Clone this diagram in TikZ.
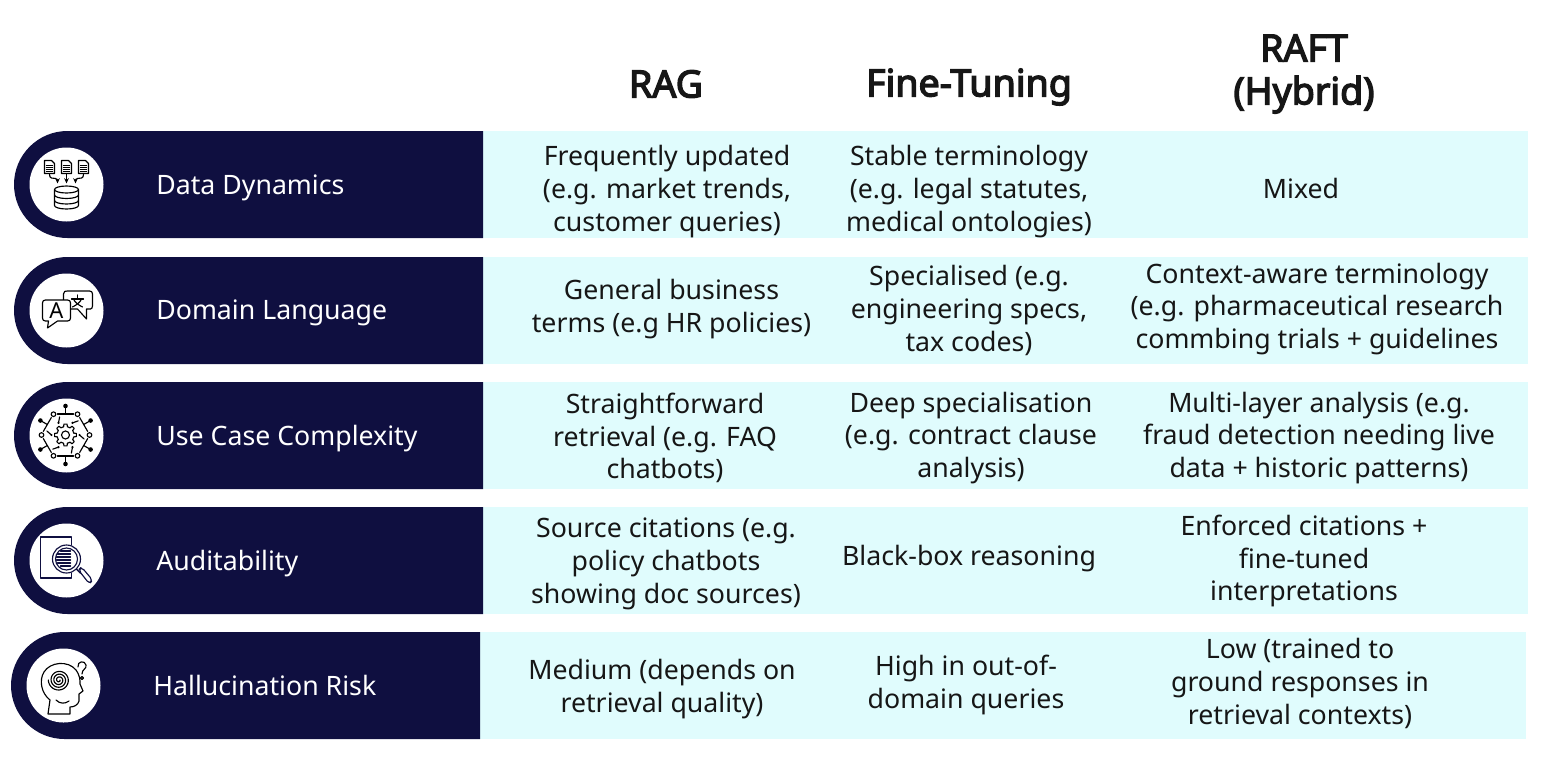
\documentclass[tikz,border=0pt]{standalone}
\usepackage{fontspec}
\setmainfont{Noto Sans}
\newfontfamily\headfont[FakeBold=3.6]{Noto Sans}
\usepackage{xcolor}
\usepackage{tikz}
\usetikzlibrary{calc, arrows.meta}
\definecolor{rownavy}{HTML}{0F0F40}
\definecolor{rowcyan}{HTML}{E0FCFD}
\definecolor{textgrey}{HTML}{161616}
\tikzset{
	headtext/.style={font=\fontsize{21.4}{24.4}\selectfont\headfont, text=textgrey, align=center},
	celltext/.style={font=\fontsize{15.2}{18.7}\selectfont, text=textgrey, align=center},
	rowlabel/.style={font=\fontsize{15.2}{18.7}\selectfont, text=white, anchor=west, inner sep=0pt},
	iconline/.style={line width=0.65pt, draw=black, line cap=round, line join=round},
	letterglyph/.style={font=\fontsize{12.5}{14}\selectfont, text=black},
	smalltip/.style={-{Stealth[length=3pt, width=2.6pt]}}
}
\begin{document}
\begin{tikzpicture}[x=0.02cm, y=-0.02cm]
			
			\useasboundingbox (0,0) rectangle (1555,768);
			
			\foreach \xleft/\xright/\ytop in {14/1528/131, 14/1528/257, 14/1528/382, 14/1528/507, 11/1526/632}
			{
				\fill[rowcyan] (\xleft+469,\ytop) rectangle (\xright,\ytop+107);
				\fill[rownavy] (\xleft+469,\ytop) -- (\xleft+53.5,\ytop) arc[start angle=270, end angle=90, radius=53.5] -- (\xleft+469,\ytop+107) -- cycle;
				\fill[white] (\xleft+52.5,\ytop+53.5) circle[radius=37];
			}
			
			\node[headtext] (headrag) at (666,84) {RAG};
			\node[headtext] (headfine) at (969,87) {Fine-Tuning};
			\node[headtext] (headraft) at (1304,74) {RAFT\\(Hybrid)};
			
			\node[rowlabel] (labeldata) at (156,188) {Data Dynamics};
			\node[rowlabel] (labeldomain) at (156,313) {Domain Language};
			\node[rowlabel] (labeluse) at (156,439) {Use Case Complexity};
			\node[rowlabel] (labelaudit) at (156,564) {Auditability};
			\node[rowlabel] (labelhalluc) at (153,685) {Hallucination Risk};
			
			\node[celltext] (ragdata) at (667,191.5) {Frequently updated\\(e.g. market trends,\\customer queries)};
			\node[celltext] (finedata) at (969,191.5) {Stable terminology\\(e.g. legal statutes,\\medical ontologies)};
			\node[celltext] (raftdata) at (1301,188) {Mixed};
			
			\node[celltext] (ragdomain) at (671.5,309) {General business\\terms (e.g HR policies)};
			\node[celltext] (finedomain) at (969,310.5) {Specialised (e.g.\\engineering specs,\\tax codes)};
			\node[celltext] (raftdomain) at (1317,309) {Context-aware terminology\\(e.g. pharmaceutical research\\commbing trials + guidelines};
			
			\node[celltext] (raguse) at (665,438) {Straightforward\\retrieval (e.g. FAQ\\chatbots)};
			\node[celltext] (fineuse) at (971,438) {Deep specialisation\\(e.g. contract clause\\analysis)};
			\node[celltext] (raftuse) at (1319,438) {Multi-layer analysis (e.g.\\fraud detection needing live\\data + historic patterns)};
			
			\node[celltext] (ragaudit) at (666,564) {Source citations (e.g.\\policy chatbots\\showing doc sources)};
			\node[celltext] (fineaudit) at (969,559) {Black-box reasoning};
			\node[celltext] (raftaudit) at (1304,561) {Enforced citations +\\fine-tuned\\interpretations};
			
			\node[celltext] (raghalluc) at (662,689) {Medium (depends on\\retrieval quality)};
			\node[celltext] (finehalluc) at (966,685) {High in out-of-\\domain queries};
			\node[celltext] (rafthalluc) at (1300,683.5) {Low (trained to\\ground responses in\\retrieval contexts)};
			
			\begin{scope}[shift={(66.5,184.5)}, iconline]
				\foreach \x in {-17, 0, 17}
				{
					\draw (\x-5,-24) -- (\x+2,-24) -- (\x+5,-21) -- (\x+5,-11) -- (\x-5,-11) -- cycle;
					\foreach \y in {-19, -17, -15, -13}
					\draw (\x-3,\y) -- (\x+3,\y);
				}
				\draw[smalltip] (0,-10) -- (0,-1);
				\draw[smalltip] (-17,-10) .. controls (-17,-6) and (-14,-6) .. (-11,-6) .. controls (-9,-6) and (-9,-4) .. (-9,-1);
				\draw[smalltip] (17,-10) .. controls (17,-6) and (14,-6) .. (11,-6) .. controls (9,-6) and (9,-4) .. (9,-1);
				\draw (-12,5) -- (-12,21) arc[start angle=180, end angle=0, x radius=12, y radius=3.5] -- (12,5);
				\draw (0,5) ellipse[x radius=12, y radius=3.5];
				\draw (-12,10.5) arc[start angle=180, end angle=0, x radius=12, y radius=3.5];
				\draw (-12,16) arc[start angle=180, end angle=0, x radius=12, y radius=3.5];
			\end{scope}
			
			\begin{scope}[shift={(66.5,310)}, iconline]
				\draw[fill=white] (-3,-16) .. controls (-3,-19) and (-1,-19) .. (1,-19) -- (23,-19) .. controls (25,-19) and (26,-18) .. (26,-16) -- (26,-4) .. controls (26,-2) and (25,-1) .. (24,-1) -- (20,-1) -- (20,9) -- (11,-1) -- (-3,-1) -- cycle;
				\draw[fill=white] (-24,-7) .. controls (-24,-9) and (-23,-10) .. (-21,-10) -- (1,-10) .. controls (3,-10) and (4,-9) .. (4,-7) -- (4,8) .. controls (4,10) and (3,11) .. (1,11) -- (-9,11) -- (-19,18) -- (-18,11) -- (-21,11) .. controls (-23,11) and (-24,10) .. (-24,8) -- cycle;
				\node[letterglyph] (glypha) at (-10,1) {A};
				\draw (5,-11) -- (17,-11);
				\draw (11,-15) -- (11,-11);
				\draw (7,-11) .. controls (8,-8) and (12,-5) .. (16,-3);
				\draw (15,-11) .. controls (14,-8) and (10,-5) .. (6,-3);
			\end{scope}
			
			\begin{scope}[shift={(65.5,435)}, iconline]
				\foreach \a in {0, 45, ..., 315}
				\draw ({\a-13}:8.5) -- ({\a-8}:11) -- ({\a+8}:11) -- ({\a+13}:8.5) -- ({\a+32}:8.5);
				\draw (0,0) circle[radius=4];
				\foreach \a in {30, 90, ..., 330}
				{
					\fill (\a:29) circle[radius=2.3];
					\draw (\a:29) -- (\a:21);
					\draw ($(\a:21)+(\a+90:8)$) -- ($(\a:21)+(\a-90:8)$);
					\draw[fill=white] (\a+30:24) circle[radius=2.3];
					\fill (\a+30:14) circle[radius=1.2];
					\draw (\a+30:14) -- (\a+42:19);
				}
			\end{scope}
			
			\begin{scope}[shift={(66.5,560)}, line width=0.65pt, line cap=round, line join=round]
				\draw[rownavy] (5,-15) -- (5,-23) -- (-26,-23) -- (-26,18) -- (5,18) -- (5,13);
				\draw[rownavy, fill=white] (0,-1) circle[radius=14];
				\draw[rownavy] (0,-1) circle[radius=11];
				\foreach \y/\w in {-9/6, -6/9, -3/10, 0/10, 3/9, 6/6}
				\draw[rownavy, line width=0.8pt] (-\w,\y) -- (4,\y);
				\draw[rownavy, line width=0.8pt] (10,9) -- (14,13);
				\draw[rownavy, fill=white, rounded corners=2pt] (12,10) -- (15,7) -- (26,20) -- (23,24) -- cycle;
			\end{scope}
			
			\begin{scope}[shift={(64,685)}, iconline]
				\draw (-16,29) -- (-14,15) .. controls (-23,8) and (-25,-5) .. (-20,-13) .. controls (-14,-23) and (4,-25) .. (12,-15) .. controls (16,-9) and (16,-6) .. (16,-1) -- (19,6) -- (15,9) -- (15,16) .. controls (14,20) and (10,22) .. (6,22) -- (6,29) -- cycle;
				\draw (-8,15) .. controls (-4,19) and (1,19) .. (5,16);
				\draw plot[domain=0:1260, samples=100, smooth] ({-5+(1+\x/130)*cos(\x)},{-5+(1+\x/130)*sin(\x)});
				\draw (14,-18) .. controls (13,-24) and (21,-25) .. (22,-20) .. controls (23,-16) and (18,-16) .. (18,-11);
				\draw (18,-7) circle[radius=1.5];
			\end{scope}
			
\end{tikzpicture}
\end{document}
